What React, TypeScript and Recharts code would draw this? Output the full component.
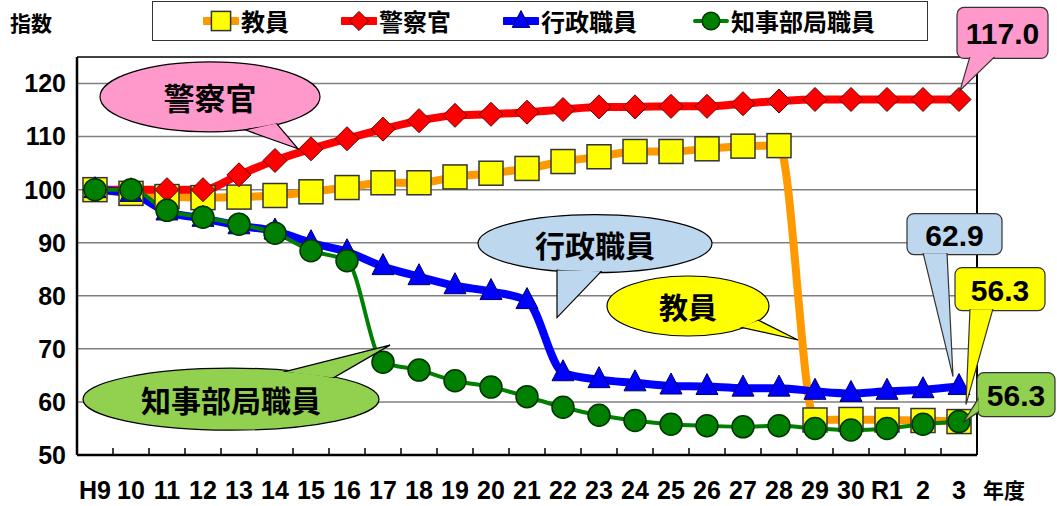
import { LineChart, Line, XAxis, YAxis, CartesianGrid, ReferenceLine, ReferenceDot } from 'recharts';

const years = ['H9', '10', '11', '12', '13', '14', '15', '16', '17', '18', '19', '20', '21', '22', '23', '24', '25', '26', '27', '28', '29', '30', 'R1', '2', '3'];
const teachers = [100, 99.3, 98.7, 98.5, 98.6, 98.9, 99.6, 100.4, 101.3, 101.3, 102.4, 103.1, 104.0, 105.3, 106.2, 107.2, 107.2, 107.7, 108.2, 108.3, 56.6, 56.7, 56.6, 56.5, 56.3];
const police = [100, 100, 100, 100, 102.8, 105.5, 107.7, 109.6, 111.4, 113.0, 114.0, 114.2, 114.6, 115.1, 115.6, 115.6, 115.7, 115.7, 116.2, 116.7, 117.0, 117.0, 117.0, 117.0, 117.0];
const admin = [100, 99.3, 95.8, 94.6, 93.2, 92.2, 90.0, 88.3, 85.5, 83.6, 81.9, 80.8, 79.1, 65.5, 64.2, 63.6, 63.0, 62.9, 62.6, 62.6, 62.0, 61.6, 62.0, 62.3, 62.9];
const staff = [100, 100, 96.1, 94.8, 93.5, 91.8, 88.5, 86.6, 67.5, 66.0, 64.0, 62.8, 61.0, 59.0, 57.5, 56.5, 55.8, 55.5, 55.3, 55.5, 55.0, 54.7, 55.0, 55.8, 56.3];
const yTicks = [50, 60, 70, 80, 90, 100, 110, 120];

const data = years.map((y, i) => ({ year: y, teachers: teachers[i], police: police[i], admin: admin[i], staff: staff[i] }));

const JP = "'Noto Sans CJK JP', sans-serif";
const NUM = "'Liberation Sans', Arial, sans-serif";

const series = [
  { key: 'teachers', name: '教員', color: '#ff9900', width: 8, marker: 'square' },
  { key: 'police', name: '警察官', color: '#ff0000', width: 8, marker: 'diamond' },
  { key: 'admin', name: '行政職員', color: '#0000ff', width: 8, marker: 'triangle' },
  { key: 'staff', name: '知事部局職員', color: '#008000', width: 4, marker: 'circle' },
];

function marker(type: string, cx: number, cy: number, key?: any, s = 1) {
  if (type === 'square') {
    const h = 12 * s;
    return <rect key={key} x={cx - h} y={cy - h} width={2 * h} height={2 * h} fill="#ffff00" stroke="#333" strokeWidth={1.5} />;
  }
  if (type === 'diamond') {
    const h = 12 * s;
    return <polygon key={key} points={`${cx},${cy - h} ${cx + h},${cy} ${cx},${cy + h} ${cx - h},${cy}`} fill="#ff0000" stroke="#600" strokeWidth={1} />;
  }
  if (type === 'triangle') {
    return <polygon key={key} points={`${cx},${cy - 13 * s} ${cx + 11 * s},${cy + 8 * s} ${cx - 11 * s},${cy + 8 * s}`} fill="#0000ff" stroke="#000060" strokeWidth={1} />;
  }
  return <circle key={key} cx={cx} cy={cy} r={11 * s} fill="#008000" stroke="#003300" strokeWidth={1.5} />;
}

// speech bubble (ellipse) anchored on a data point
function EllipseCallout(p: any) {
  const { cx, cy, ex, ey, rx, ry, tail, fill, text, fontSize } = p;
  const pts = tail.map(([dx, dy]: number[]) => `${cx + dx},${cy + dy}`).join(' ');
  return (
    <g>
      <ellipse cx={cx + ex} cy={cy + ey} rx={rx} ry={ry} fill={fill} stroke="#000" strokeWidth={1.2} />
      <polygon points={pts} fill={fill} stroke="#000" strokeWidth={1.2} />
      <ellipse cx={cx + ex} cy={cy + ey} rx={rx - 1.5} ry={ry - 1.5} fill={fill} />
      <text x={cx + ex} y={cy + ey} textAnchor="middle" dominantBaseline="central" fontFamily={JP} fontWeight="bold" fontSize={fontSize} fill="#000">{text}</text>
    </g>
  );
}

function BoxCallout(p: any) {
  const { cx, cy, bx, by, bw, bh, tail, fill, text } = p;
  const pts = tail.map(([dx, dy]: number[]) => `${cx + dx},${cy + dy}`).join(' ');
  return (
    <g>
      <rect x={cx + bx} y={cy + by} width={bw} height={bh} rx={7} fill={fill} stroke="#333" strokeWidth={1.2} />
      <polygon points={pts} fill={fill} stroke="#333" strokeWidth={1.2} />
      <rect x={cx + bx + 1.5} y={cy + by + 1.5} width={bw - 3} height={bh - 3} rx={6} fill={fill} />
      <text x={cx + bx + bw / 2} y={cy + by + bh / 2 + 1} textAnchor="middle" dominantBaseline="central" fontFamily={NUM} fontWeight="bold" fontSize={30} fill="#000">{text}</text>
    </g>
  );
}

const XTick = (props: any) => {
  const { x, y, payload } = props;
  return (
    <g>
      <line x1={x - 18} y1={y} x2={x - 18} y2={y - 7} stroke="#000" strokeWidth={1.5} />
      <text x={x} y={y + 44} textAnchor="middle" fontFamily={NUM} fontWeight="bold" fontSize={25} fill="#000">{payload.value}</text>
    </g>
  );
};

const legendLefts = [50, 188, 350, 540];
const ChartLegend = () => (
  <div style={{ position: 'absolute', left: 152, top: 1, width: 776, height: 40, border: '1px solid #333', boxSizing: 'border-box', background: '#fff' }}>
    {series.map((s, i) => (
      <div key={s.key} style={{ position: 'absolute', left: legendLefts[i], top: 0, height: 38, display: 'flex', alignItems: 'center' }}>
        <svg width={36} height={24}>
          <line x1={2} y1={12} x2={34} y2={12} stroke={s.color} strokeWidth={s.width} strokeLinecap="round" />
          {marker(s.marker, 18, 12, undefined, 0.8)}
        </svg>
        <span style={{ fontFamily: JP, fontWeight: 'bold', fontSize: 24, color: '#000', marginLeft: 2, lineHeight: 1 }}>{s.name}</span>
      </div>
    ))}
  </div>
);

export default function App() {
  return (
    <div style={{ position: 'absolute', left: 0, top: 0, width: 1057, height: 506, background: '#fff' }}>
      <LineChart width={1057} height={506} data={data} margin={{ top: 57, right: 79, bottom: 0, left: 0 }}>
        <CartesianGrid vertical={false} stroke="#7f7f7f" strokeWidth={1.5} yAxisId="left" />
        <XAxis dataKey="year" interval={0} padding={{ left: 18, right: 18 }} height={51} tickSize={0} tickMargin={0} tickLine={false}
          axisLine={{ stroke: '#000', strokeWidth: 2.5 }} tick={<XTick />} />
        <YAxis yAxisId="left" domain={[50, 125]} ticks={yTicks} width={77} tickSize={0} tickMargin={11} allowDataOverflow
          axisLine={{ stroke: '#000', strokeWidth: 2.5 }} tick={{ fontFamily: NUM, fontWeight: 'bold', fontSize: 25, fill: '#000' }} />
        <YAxis yAxisId="r" orientation="right" domain={[50, 125]} width={1} tick={false} tickLine={false} axisLine={{ stroke: '#000', strokeWidth: 2 }} />
        <ReferenceLine yAxisId="left" y={125} stroke="#222" strokeWidth={1.5} />
        {series.map((s) => (
          <Line key={s.key} yAxisId="left" type="monotone" dataKey={s.key} name={s.name} stroke={s.color} strokeWidth={s.width}
            isAnimationActive={false} activeDot={false}
            dot={(p: any) => marker(s.marker, p.cx, p.cy, `${s.key}-${p.index}`)} />
        ))}
        <ReferenceDot yAxisId="left" x="15" y={107.7} ifOverflow="visible"
          shape={(p: any) => <EllipseCallout cx={p.cx} cy={p.cy} ex={-101} ey={-52} rx={110} ry={35} fill="#ff99cc" text="警察官" fontSize={31}
            tail={[[-66, -19], [-13, 0], [-35, -26]]} />} />
        <ReferenceDot yAxisId="left" x="21" y={79.1} ifOverflow="visible"
          shape={(p: any) => <EllipseCallout cx={p.cx} cy={p.cy} ex={68} ey={-57} rx={117} ry={29} fill="#bdd7ee" text="行政職員" fontSize={30}
            tail={[[30, -31], [30, 17], [75, -30]]} />} />
        <ReferenceDot yAxisId="left" x="29" y={56.6} ifOverflow="visible"
          shape={(p: any) => <EllipseCallout cx={p.cx} cy={p.cy} ex={-127} ey={-114} rx={81} ry={30} fill="#ffff00" text="教員" fontSize={29}
            tail={[[-57, -100], [-17, -80], [-75, -93]]} />} />
        <ReferenceDot yAxisId="left" x="17" y={67.5} ifOverflow="visible"
          shape={(p: any) => <EllipseCallout cx={p.cx} cy={p.cy} ex={-152} ey={37} rx={148} ry={31} fill="#92d050" text="知事部局職員" fontSize={30}
            tail={[[-100, 10], [7, -17], [-50, 16]]} />} />
        <ReferenceDot yAxisId="left" x="3" y={117.0} ifOverflow="visible"
          shape={(p: any) => <BoxCallout cx={p.cx} cy={p.cy} bx={-2} by={-92} bw={91} bh={51} fill="#ff99cc" text="117.0"
            tail={[[11, -43], [1, -9], [36, -43]]} />} />
        <ReferenceDot yAxisId="left" x="3" y={62.9} ifOverflow="visible"
          shape={(p: any) => <BoxCallout cx={p.cx} cy={p.cy} bx={-52} by={-173} bw={95} bh={41} fill="#bdd7ee" text="62.9"
            tail={[[-36, -134], [-6, -10], [-12, -134]]} />} />
        <ReferenceDot yAxisId="left" x="3" y={56.3} ifOverflow="visible"
          shape={(p: any) => <BoxCallout cx={p.cx} cy={p.cy} bx={-4} by={-154} bw={90} bh={43} fill="#ffff00" text="56.3"
            tail={[[11, -113], [7, -17], [34, -113]]} />} />
        <ReferenceDot yAxisId="left" x="3" y={56.3} ifOverflow="visible"
          shape={(p: any) => <BoxCallout cx={p.cx} cy={p.cy} bx={18} by={-49} bw={78} bh={44} fill="#92d050" text="56.3"
            tail={[[20, -24], [4, 1], [20, -10]]} />} />
      </LineChart>
      <ChartLegend />
      <div style={{ position: 'absolute', left: 10, top: 12, fontFamily: JP, fontWeight: 'bold', fontSize: 21, lineHeight: 1 }}>指数</div>
      <div style={{ position: 'absolute', left: 983, top: 479, fontFamily: JP, fontWeight: 'bold', fontSize: 21, lineHeight: 1 }}>年度</div>
    </div>
  );
}
